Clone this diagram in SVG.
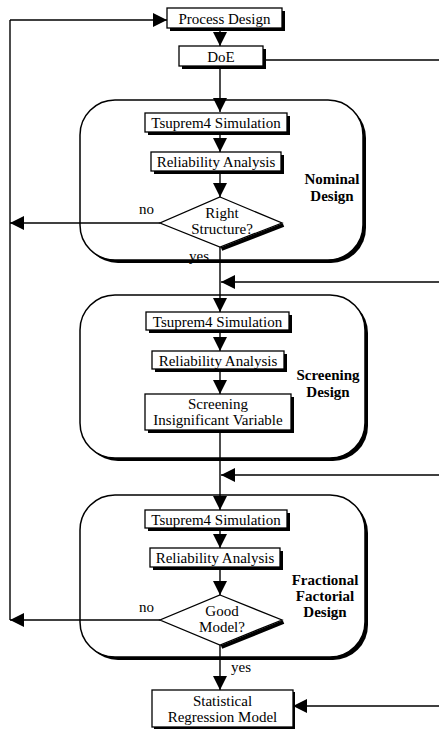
<svg xmlns="http://www.w3.org/2000/svg" width="439" height="734" viewBox="0 0 439 734">
<defs>
<style>
.box{fill:#fff;stroke:#000;stroke-width:1.3}
.sh{fill:#000}
.grp{fill:#fff;stroke:#000;stroke-width:1.5}
.t{font-family:"Liberation Serif","Times New Roman",serif;font-size:15px;fill:#000;text-anchor:middle}
.b{font-weight:bold;font-size:15px}
.l{font-family:"Liberation Serif","Times New Roman",serif;font-size:15px;fill:#000}
.ln{fill:none;stroke:#000;stroke-width:1.4}
</style>
<marker id="ah" viewBox="0 0 14 14" refX="14" refY="7" markerWidth="14" markerHeight="14" markerUnits="userSpaceOnUse" orient="auto">
<path d="M0,0 L14,7 L0,14 Z" fill="#000"/>
</marker>
</defs>
<rect width="439" height="734" fill="#fff"/>

<g id="nominal-group">
<rect x="83" y="103" width="283" height="160" rx="35" class="sh"/>
<rect x="80" y="100" width="283" height="160" rx="35" class="grp"/>
<text class="t b" x="332" y="184">Nominal</text>
<text class="t b" x="332" y="201">Design</text>
</g>
<g id="screening-group">
<rect x="83" y="298" width="285" height="163" rx="35" class="sh"/>
<rect x="80" y="295" width="285" height="163" rx="35" class="grp"/>
<text class="t b" x="328" y="380">Screening</text>
<text class="t b" x="328" y="397">Design</text>
</g>
<g id="fractional-group">
<rect x="83" y="498" width="285" height="162" rx="35" class="sh"/>
<rect x="80" y="495" width="285" height="162" rx="35" class="grp"/>
<text class="t b" x="325" y="585">Fractional</text>
<text class="t b" x="325" y="601">Factorial</text>
<text class="t b" x="325" y="617">Design</text>
</g>

<g id="connectors">
<polyline class="ln" points="160,223 10,223" marker-end="url(#ah)"/>
<polyline class="ln" points="160,620 10,620" marker-end="url(#ah)"/>
<line class="ln" x1="10" y1="20" x2="10" y2="620"/>
<polyline class="ln" points="10,20 167,20" marker-end="url(#ah)"/>
<line class="ln" x1="220" y1="28" x2="220" y2="46" marker-end="url(#ah)"/>
<line class="ln" x1="263" y1="60" x2="439" y2="60"/>
<line class="ln" x1="220" y1="66" x2="220" y2="112" marker-end="url(#ah)"/>
<line class="ln" x1="220" y1="132" x2="220" y2="152" marker-end="url(#ah)"/>
<line class="ln" x1="220" y1="171" x2="220" y2="197" marker-end="url(#ah)"/>
<line class="ln" x1="220" y1="247" x2="220" y2="312" marker-end="url(#ah)"/>
<line class="ln" x1="439" y1="282" x2="221" y2="282" marker-end="url(#ah)"/>
<line class="ln" x1="220" y1="330" x2="220" y2="351" marker-end="url(#ah)"/>
<line class="ln" x1="220" y1="369" x2="220" y2="394" marker-end="url(#ah)"/>
<line class="ln" x1="220" y1="430" x2="220" y2="510" marker-end="url(#ah)"/>
<line class="ln" x1="439" y1="475" x2="221" y2="475" marker-end="url(#ah)"/>
<line class="ln" x1="220" y1="528" x2="220" y2="548" marker-end="url(#ah)"/>
<line class="ln" x1="220" y1="567" x2="220" y2="595" marker-end="url(#ah)"/>
<line class="ln" x1="220" y1="645" x2="220" y2="690" marker-end="url(#ah)"/>
<line class="ln" x1="439" y1="706" x2="293" y2="706" marker-end="url(#ah)"/>
<text class="l" x="139" y="214">no</text>
<text class="l" x="189" y="261">yes</text>
<text class="l" x="139" y="612">no</text>
<text class="l" x="231" y="672">yes</text>
</g>

<g id="process-design">
<rect x="170" y="11" width="115" height="20" class="sh"/>
<rect x="167" y="8" width="115" height="20" class="box"/>
<text class="t" x="224.5" y="23.5">Process Design</text>
</g>
<g id="doe">
<rect x="182" y="49" width="84" height="20" class="sh"/>
<rect x="179" y="46" width="84" height="20" class="box"/>
<text class="t" x="221" y="61.5">DoE</text>
</g>
<g id="tsuprem-1">
<rect x="148" y="116" width="142" height="19" class="sh"/>
<rect x="145" y="113" width="142" height="19" class="box"/>
<text class="t" x="216" y="128">Tsuprem4 Simulation</text>
</g>
<g id="reliability-1">
<rect x="154" y="155" width="130" height="19" class="sh"/>
<rect x="151" y="152" width="130" height="19" class="box"/>
<text class="t" x="216" y="167">Reliability Analysis</text>
</g>
<g id="right-structure">
<polyline points="282,223 220,247" fill="none" stroke="#000" stroke-width="4" transform="translate(1.5,2)"/>
<polygon points="220,197 282,223 220,247 160,223" class="box"/>
<text class="t" x="222" y="218">Right</text>
<text class="t" x="222" y="234">Structure?</text>
</g>
<g id="tsuprem-2">
<rect x="149" y="315" width="143" height="18" class="sh"/>
<rect x="146" y="312" width="143" height="18" class="box"/>
<text class="t" x="217.5" y="326.5">Tsuprem4 Simulation</text>
</g>
<g id="reliability-2">
<rect x="155" y="354" width="132" height="18" class="sh"/>
<rect x="152" y="351" width="132" height="18" class="box"/>
<text class="t" x="218" y="365.5">Reliability Analysis</text>
</g>
<g id="screening-variable">
<rect x="148" y="397" width="146" height="36" class="sh"/>
<rect x="145" y="394" width="146" height="36" class="box"/>
<text class="t" x="218" y="409">Screening</text>
<text class="t" x="218" y="425">Insignificant Variable</text>
</g>
<g id="tsuprem-3">
<rect x="148" y="513" width="142" height="18" class="sh"/>
<rect x="145" y="510" width="142" height="18" class="box"/>
<text class="t" x="216" y="524.5">Tsuprem4 Simulation</text>
</g>
<g id="reliability-3">
<rect x="153" y="551" width="130" height="19" class="sh"/>
<rect x="150" y="548" width="130" height="19" class="box"/>
<text class="t" x="215" y="563">Reliability Analysis</text>
</g>
<g id="good-model">
<polyline points="282,620 220,645" fill="none" stroke="#000" stroke-width="4" transform="translate(1.5,2)"/>
<polygon points="220,595 282,620 220,645 160,620" class="box"/>
<text class="t" x="222" y="616">Good</text>
<text class="t" x="222" y="632">Model?</text>
</g>
<g id="statistical-model">
<rect x="154" y="692" width="141" height="37" class="sh"/>
<rect x="152" y="690" width="141" height="37" class="box"/>
<text class="t" x="222.5" y="706">Statistical</text>
<text class="t" x="222.5" y="722">Regression Model</text>
</g>
</svg>
